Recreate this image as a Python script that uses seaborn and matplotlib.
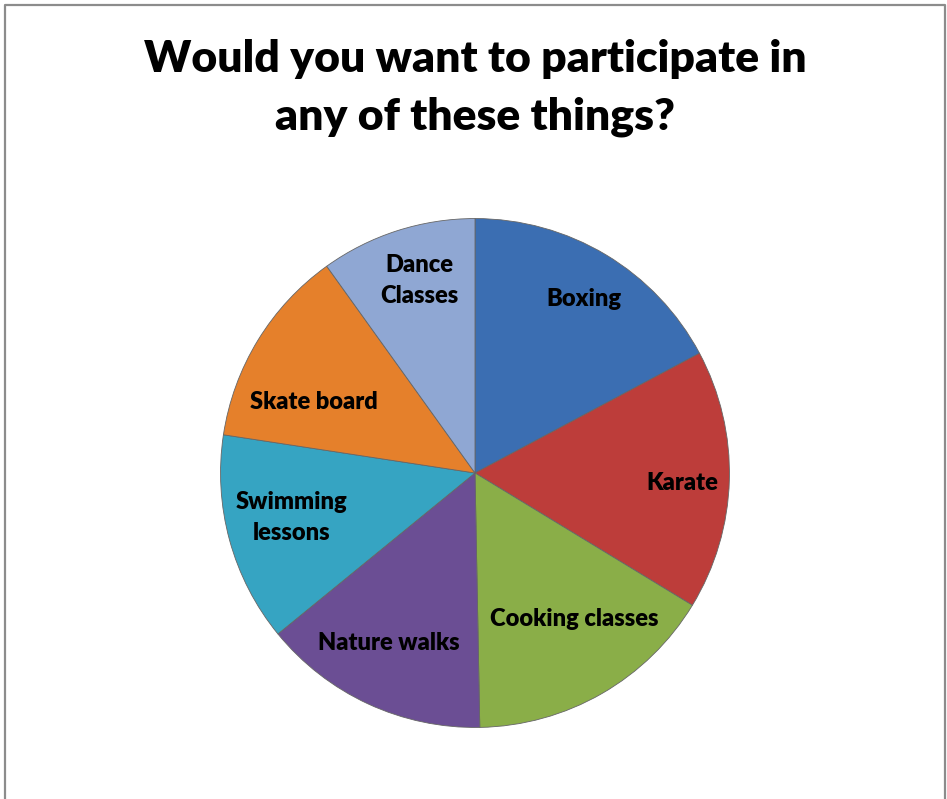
import matplotlib.pyplot as plt
import seaborn as sns

sns.set_theme(style='white')
plt.rcParams['font.family'] = ['Lato', 'DejaVu Sans']
plt.rcParams['text.color'] = 'black'

activities = ['Boxing', 'Karate', 'Cooking classes', 'Nature walks',
              'Swimming\nlessons', 'Skate board', 'Dance\nClasses']
share = [17.2, 16.5, 16.0, 14.4, 13.3, 12.7, 9.9]
colors = ['#3b6eb2', '#bd3d3a', '#8aae48', '#6b4e94', '#36a4c2', '#e5802b', '#8fa7d3']

# label offsets from pie centre (fraction of radius)
label_pos = [(0.43, 0.685), (0.815, -0.04), (0.39, -0.575), (-0.34, -0.67),
             (-0.72, -0.175), (-0.635, 0.28), (-0.22, 0.755)]

W, H = 947, 799
fig = plt.figure(figsize=(W / 100, H / 100), dpi=100)

# outer frame (no bottom edge visible)
fig.add_artist(plt.Line2D([5 / W, 5 / W, 945 / W, 945 / W], [0, 1 - 5 / H, 1 - 5 / H, 0],
                          transform=fig.transFigure, color='#8c8c8c', lw=1.6))

cx, cy, r = 475, 473, 257
ax = fig.add_axes([(cx - r) / W, (H - cy - r) / H, 2 * r / W, 2 * r / H])
wedges, _ = ax.pie(share, colors=sns.color_palette(colors), startangle=90, counterclock=False,
                   radius=1, wedgeprops=dict(edgecolor='#666666', linewidth=0.6))
ax.set_xlim(-1.01, 1.01)
ax.set_ylim(-1.01, 1.01)
ax.set_aspect('equal')
ax.axis('off')

for name, (x, y) in zip(activities, label_pos):
    ax.text(x, y, name, ha='center', va='center', fontsize=17, fontweight='heavy',
            color='black', linespacing=1.5)

fig.text(cx / W, 1 - 88 / H, 'Would you want to participate in\nany of these things?',
         ha='center', va='center', fontsize=32, fontweight='heavy', linespacing=1.55)

plt.savefig('out.png', dpi=100)
